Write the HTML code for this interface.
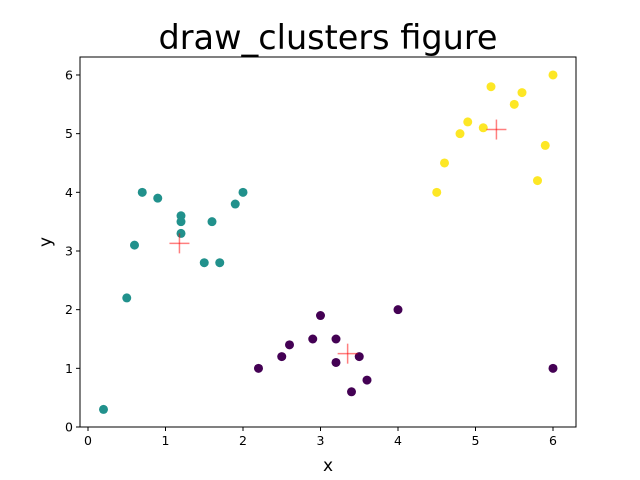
<!DOCTYPE html>
<html><head><meta charset="utf-8"><style>body{margin:0;background:#fff}svg{display:block;font-family:"DejaVu Sans","Liberation Sans",sans-serif}</style></head>
<body>
<svg id="chart" width="640" height="480" xmlns="http://www.w3.org/2000/svg"></svg>
<script>
const teal = [[0.2,0.3],[0.5,2.2],[0.6,3.1],[0.7,4.0],[0.9,3.9],[1.2,3.6],[1.2,3.5],[1.2,3.3],[1.5,2.8],[1.6,3.5],[1.7,2.8],[1.9,3.8],[2.0,4.0]];
const purple = [[2.2,1.0],[2.5,1.2],[2.6,1.4],[2.9,1.5],[3.0,1.9],[3.2,1.5],[3.2,1.1],[3.4,0.6],[3.5,1.2],[3.6,0.8],[4.0,2.0],[6.0,1.0]];
const yellow = [[4.5,4.0],[4.6,4.5],[4.8,5.0],[4.9,5.2],[5.1,5.1],[5.2,5.8],[5.5,5.5],[5.6,5.7],[5.8,4.2],[5.9,4.8],[6.0,6.0]];
const centroids = [[1.18,3.13],[3.35,1.25],[5.27,5.07]];
const xTicks = [0,1,2,3,4,5,6];
const yTicks = [0,1,2,3,4,5,6];

const svg = document.getElementById('chart');
const NS = 'http://www.w3.org/2000/svg';
const L=80,R=576,T=57,B=427;
const X = v => 88 + v*77.5;
const Y = v => 427 - v*58.67;
function mk(tag, attrs, parent){const e=document.createElementNS(NS,tag);for(const k in attrs)e.setAttribute(k,attrs[k]);(parent||svg).appendChild(e);return e;}

const title = mk('text',{x:328,y:49,'text-anchor':'middle','font-size':'33.5'});
title.textContent='draw_clusters figure';



const frame = mk('rect',{x:L,y:T,width:R-L,height:B-T,fill:'none',stroke:'#000','stroke-width':1});



xTicks.forEach(t=>{
  const ln=mk('line',{x1:X(t),x2:X(t),y1:B,y2:B+4,stroke:'#000'});
  
  
  const tx=mk('text',{x:X(t),y:B+18,'text-anchor':'middle','font-size':'12.5'});
  tx.textContent=t;
  
  
});
yTicks.forEach(t=>{
  const ln=mk('line',{x1:L-4,x2:L,y1:Y(t),y2:Y(t),stroke:'#000'});
  
  
  const tx=mk('text',{x:L-7,y:Y(t)+4.5,'text-anchor':'end','font-size':'12.5'});
  tx.textContent=t;
  
  
});
const xl=mk('text',{x:328,y:471,'text-anchor':'middle','font-size':'17'});
xl.textContent='x';


const yl=mk('text',{x:51,y:242,'text-anchor':'middle','font-size':'17',transform:'rotate(-90 51 242)'});
yl.textContent='y';



function series(arr,color,name){
  arr.forEach(p=>{
    const c=mk('circle',{cx:X(p[0]),cy:Y(p[1]),r:4.5,fill:color});
    
    
  });
}
series(purple,'#440154','point-cluster-purple');
series(teal,'#21918c','point-cluster-teal');
series(yellow,'#fde725','point-cluster-yellow');
centroids.forEach(p=>{
  const g=mk('g',{stroke:'#ff0000','stroke-opacity':0.5,'stroke-width':1.5});
  
  
  mk('line',{x1:X(p[0])-10,x2:X(p[0])+10,y1:Y(p[1]),y2:Y(p[1])},g);
  mk('line',{x1:X(p[0]),x2:X(p[0]),y1:Y(p[1])-10,y2:Y(p[1])+10},g);
});
</script>
</body></html>
